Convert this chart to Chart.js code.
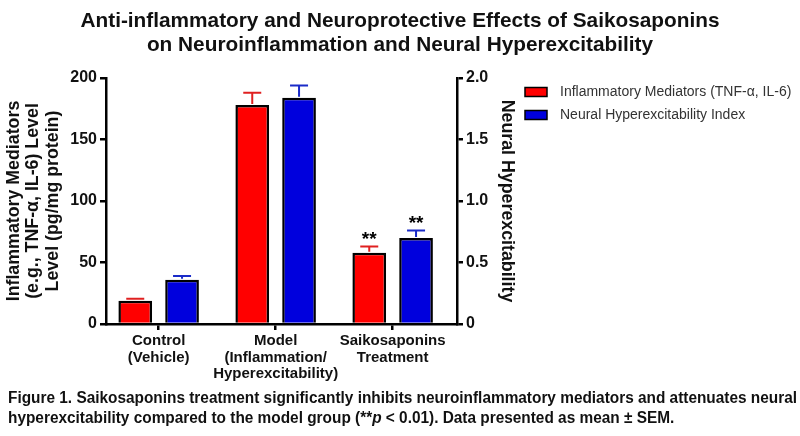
<!DOCTYPE html>
<html>
<head>
<meta charset="utf-8">
<script src="https://cdn.jsdelivr.net/npm/chart.js@4.4.1/dist/chart.umd.min.js"></script>
<style>
  html, body { margin: 0; padding: 0; background: #fff; }
  #wrap { position: relative; width: 800px; height: 436px; }
</style>
</head>
<body>
<div id="wrap"><canvas id="chart" width="800" height="436"></canvas></div>
<script>
// groups on the x axis (placed at 0, 1, 2)
const groups = [['Control', '(Vehicle)'], ['Model', '(Inflammation/', 'Hyperexcitability)'], ['Saikosaponins', 'Treatment']];
const inflammation = [19, 178, 58];       // pg/mg protein
const inflammationErr = [1.5, 10, 5];
const hyperexcit = [0.36, 1.84, 0.70];    // index
const hyperexcitErr = [0.03, 0.10, 0.06];
const signif = ['', '', '**'];
const leftTicks = [0, 50, 100, 150, 200];
const rightTicks = [0, 0.5, 1.0, 1.5, 2.0];

const RED = '#ff0000';
const BLUE = '#0000dd';
const FONT = "'Liberation Sans', Arial, Helvetica, sans-serif";

// error bars (upper only) + significance stars
const errorBars = {
  id: 'errorBars',
  afterDatasetsDraw(chart) {
    const ctx = chart.ctx;
    chart.data.datasets.forEach((ds, i) => {
      const meta = chart.getDatasetMeta(i);
      const scale = chart.scales[ds.yAxisID];
      meta.data.forEach((bar, j) => {
        const v = ds.data[j].y;
        const top = scale.getPixelForValue(v + ds.errors[j]);
        ctx.save();
        ctx.strokeStyle = ds.errColor;
        ctx.lineWidth = 2;
        ctx.beginPath();
        ctx.moveTo(bar.x, bar.y - 1);
        ctx.lineTo(bar.x, top);
        ctx.moveTo(bar.x - 9, top);
        ctx.lineTo(bar.x + 9, top);
        ctx.stroke();
        if (signif[j]) {
          ctx.fillStyle = '#000';
          ctx.font = 'bold 19px ' + FONT;
          ctx.textAlign = 'center';
          ctx.textBaseline = 'alphabetic';
          ctx.fillText(signif[j], bar.x, top - 2);
        }
        ctx.restore();
      });
    });
  }
};

// draw text squeezed horizontally by k (the caption uses a narrow face)
function narrowText(ctx, parts, x, y, k) {
  ctx.save();
  ctx.translate(x, y);
  ctx.scale(k, 1);
  let cx = 0;
  parts.forEach(p => { ctx.font = p[1]; ctx.fillText(p[0], cx, 0); cx += ctx.measureText(p[0]).width; });
  ctx.restore();
}

// title, legend and figure caption
const decor = {
  id: 'decor',
  afterDraw(chart) {
    const ctx = chart.ctx;
    ctx.save();
    ctx.fillStyle = '#111';
    ctx.textAlign = 'center';
    ctx.textBaseline = 'middle';
    ctx.font = 'bold 20.8px ' + FONT;
    ctx.fillText('Anti-inflammatory and Neuroprotective Effects of Saikosaponins', 400, 21);
    ctx.fillText('on Neuroinflammation and Neural Hyperexcitability', 400, 45);

    // legend
    const items = [['Inflammatory Mediators (TNF-\u03b1, IL-6)', RED], ['Neural Hyperexcitability Index', BLUE]];
    ctx.textAlign = 'left';
    ctx.font = '14px ' + FONT;
    items.forEach((it, k) => {
      const y = 92 + k * 23;
      ctx.fillStyle = it[1];
      ctx.fillRect(525, y - 4.5, 22, 9);
      ctx.strokeStyle = '#000';
      ctx.lineWidth = 1.5;
      ctx.strokeRect(525, y - 4.5, 22, 9);
      ctx.fillStyle = '#333';
      ctx.fillText(it[0], 560, y);
    });

    // caption
    ctx.fillStyle = '#111';
    const b = 'bold 16px ' + FONT;
    const bi = 'italic bold 16px ' + FONT;
    const line1 = 'Figure 1. Saikosaponins treatment significantly inhibits neuroinflammatory mediators and attenuates neural';
    ctx.font = b;
    const k = 789 / ctx.measureText(line1).width;
    narrowText(ctx, [[line1, b]], 8, 399, k);
    narrowText(ctx, [['hyperexcitability compared to the model group (**', b], ['p', bi], [' < 0.01). Data presented as mean \u00b1 SEM.', b]], 8, 419, k);
    ctx.restore();
  }
};

const toPoints = arr => arr.map((v, i) => ({ x: i, y: v }));

new Chart(document.getElementById('chart'), {
  type: 'bar',
  data: {
    datasets: [
      {
        label: 'Inflammatory Mediators (TNF-\u03b1, IL-6)',
        data: toPoints(inflammation),
        errors: inflammationErr,
        errColor: '#e02020',
        backgroundColor: RED,
        borderColor: '#000',
        borderWidth: 2.5,
        yAxisID: 'y'
      },
      {
        label: 'Neural Hyperexcitability Index',
        data: toPoints(hyperexcit),
        errors: hyperexcitErr,
        errColor: '#1a2bc8',
        backgroundColor: BLUE,
        borderColor: '#000',
        borderWidth: 2.5,
        yAxisID: 'y1'
      }
    ]
  },
  options: {
    responsive: false,
    animation: false,
    categoryPercentage: 0.8,
    barPercentage: 0.72,
    layout: { padding: { left: 0, top: 78, right: 273, bottom: 52 } },
    plugins: {
      legend: { display: false },
      title: { display: false },
      tooltip: { enabled: false }
    },
    scales: {
      x: {
        type: 'linear',
        offset: false,
        min: -0.45,
        max: 2.55,
        afterBuildTicks: s => { s.ticks = groups.map((g, i) => ({ value: i })); },
        afterFit: s => { s.height = 60; },
        border: { display: true, color: '#000', width: 2.5 },
        grid: { display: true, offset: false, drawOnChartArea: false, drawTicks: true, tickLength: 6, color: '#000', lineWidth: 2.5 },
        ticks: {
          callback: v => groups[v],
          color: '#111',
          padding: 3,
          maxRotation: 0,
          autoSkip: false,
          font: { family: FONT, size: 15, weight: 'bold', lineHeight: 1.1 }
        }
      },
      y: {
        position: 'left',
        min: 0,
        max: 200,
        afterBuildTicks: s => { s.ticks = leftTicks.map(v => ({ value: v })); },
        afterFit: s => { s.width = 106; },
        border: { display: true, color: '#000', width: 2.5 },
        grid: { display: true, drawOnChartArea: false, drawTicks: true, tickLength: 6, color: '#000', lineWidth: 2.5 },
        ticks: { color: '#111', padding: 3, font: { family: FONT, size: 16, weight: 'bold' } },
        title: {
          display: true,
          text: ['Inflammatory Mediators', '(e.g., TNF-\u03b1, IL-6) Level', 'Level (pg/mg protein)'],
          color: '#111',
          padding: { top: 5, bottom: 0 },
          font: { family: FONT, size: 17.8, weight: 'bold', lineHeight: 1.07 }
        }
      },
      y1: {
        position: 'right',
        min: 0,
        max: 2,
        afterBuildTicks: s => { s.ticks = rightTicks.map(v => ({ value: v })); },
        afterFit: s => { s.width = 70; },
        border: { display: true, color: '#000', width: 2.5 },
        grid: { display: true, drawOnChartArea: false, drawTicks: true, tickLength: 6, color: '#000', lineWidth: 2.5 },
        ticks: {
          color: '#111',
          padding: 3,
          font: { family: FONT, size: 16, weight: 'bold' },
          callback: v => v === 0 ? '0' : v.toFixed(1)
        },
        title: {
          display: true,
          text: 'Neural Hyperexcitability',
          color: '#111',
          padding: { top: 10, bottom: 0 },
          font: { family: FONT, size: 17.8, weight: 'bold', lineHeight: 1.15 }
        }
      }
    }
  },
  plugins: [errorBars, decor]
});
</script>
</body>
</html>
